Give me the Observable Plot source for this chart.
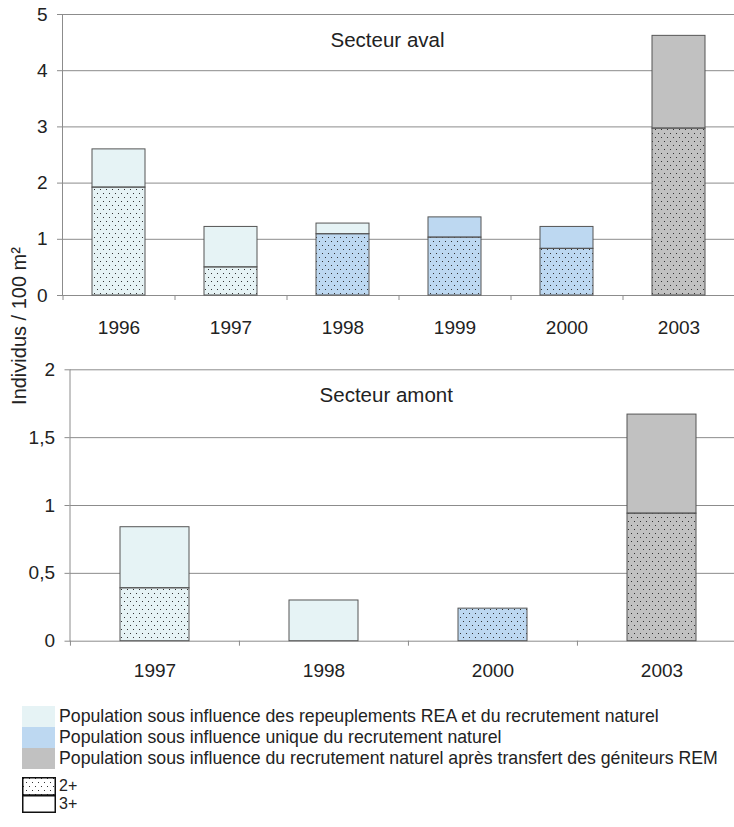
<!DOCTYPE html>
<html>
<head>
<meta charset="utf-8">
<script src="https://cdn.jsdelivr.net/npm/d3@7"></script>
<script src="https://cdn.jsdelivr.net/npm/@observablehq/plot@0.6"></script>
<style>
  html, body { margin: 0; padding: 0; background: white; }
  #wrap { position: relative; width: 734px; height: 827px; overflow: hidden; font-family: "Liberation Sans", Arial, sans-serif; color: #222; }
  .abs { position: absolute; }
  .legrow { position: absolute; left: 22px; height: 21px; display: flex; align-items: center; }
  .sw { width: 33px; height: 21px; }
  .lt { margin-left: 4px; font-size: 17.7px; white-space: nowrap; }
</style>
</head>
<body>
<svg width="0" height="0" style="position:absolute">
  <defs>
    <pattern id="dots" width="6" height="8" patternUnits="userSpaceOnUse">
      <rect x="1" y="1" width="1" height="1" fill="#333"></rect>
      <rect x="4" y="5" width="1" height="1" fill="#333"></rect>
    </pattern>
  </defs>
</svg>
<div id="wrap">
  <div id="top" class="abs" style="left:0;top:0"></div>
  <div id="bottom" class="abs" style="left:0;top:340px"></div>
  <div id="ylabel" class="abs" style="left:19px;top:326px;transform:translate(-50%,-50%) rotate(-90deg);font-size:20px;white-space:nowrap;">Individus / 100 m²</div>
  <div id="legend"></div>
</div>
<script>
// ---- Data ----
const avalYears = ["1996", "1997", "1998", "1999", "2000", "2003"];
const aval2plus = [1.92, 0.50, 1.09, 1.03, 0.83, 2.97];
const aval3plus = [0.68, 0.72, 0.19, 0.36, 0.39, 1.65];
const aval2Group = ["REA", "REA", "nat", "nat", "nat", "REM"];
const aval3Group = ["REA", "REA", "REA", "nat", "nat", "REM"];

const amontYears = ["1997", "1998", "2000", "2003"];
const amont2plus = [0.39, 0, 0.24, 0.94];
const amont3plus = [0.45, 0.30, 0, 0.73];
const amont2Group = ["REA", "REA", "nat", "REM"];
const amont3Group = ["REA", "REA", "nat", "REM"];

const groups = ["REA", "nat", "REM"];
const groupColors = ["#e6f3f5", "#bdd8f1", "#c1c1c1"];
const groupLabels = [
  "Population sous influence des repeuplements REA et du recrutement naturel",
  "Population sous influence unique du recrutement naturel",
  "Population sous influence du recrutement naturel après transfert des géniteurs REM"
];
const ageLabels = ["2+", "3+"];

const avalTicks = [0, 1, 2, 3, 4, 5];
const amontTicks = [0, 0.5, 1, 1.5, 2];

const titles = ["Secteur aval", "Secteur amont"];

// ---- Build ----
function rows(years, v2, v3, g2, g3) {
  const out = [];
  years.forEach((y, i) => {
    out.push({year: y, age: "2+", value: v2[i], group: g2[i]});
    out.push({year: y, age: "3+", value: v3[i], group: g3[i]});
  });
  return out.filter(d => d.value > 0);
}

const frFmt = d => String(d).replace(".", ",");
const gridColor = "#8c8c8c";

function chart(o) {
  const step = (o.width - o.ml) / o.years.length;
  const last = o.years[o.years.length - 1];
  return Plot.plot({
    width: o.width, height: o.height,
    marginLeft: o.ml, marginRight: 0, marginTop: o.mt, marginBottom: o.mb,
    style: {fontFamily: "'Liberation Sans', Arial, sans-serif", fontSize: "19px", color: "#222", maxWidth: "none", background: "transparent", overflow: "visible"},
    x: {domain: o.years, paddingInner: o.pI, paddingOuter: o.pI / 2, axis: null},
    y: {domain: [0, o.ticks[o.ticks.length - 1]], axis: null},
    color: {domain: groups, range: groupColors},
    marks: [
      Plot.ruleY(o.ticks, {stroke: gridColor, strokeWidth: 1}),
      Plot.frame({anchor: "left", stroke: gridColor}),
      Plot.barY(o.data, {x: "year", y: "value", fill: "group"}),
      Plot.barY(o.data.filter(d => d.age === "2+"), {x: "year", y: "value", fill: "url(#dots)"}),
      Plot.barY(o.data, {x: "year", y: "value", fill: "none", stroke: "#555", strokeWidth: 1}),
      Plot.axisY(o.ticks, {tickSize: 5, tickPadding: 10, tickFormat: frFmt, stroke: gridColor, fill: "#222", label: null}),
      Plot.axisX({tickSize: 0, tickPadding: o.xPad, fill: "#222", label: null}),
      Plot.axisX(o.years, {tickSize: 5, tickFormat: () => "", dx: -step / 2, stroke: gridColor, label: null}),
      Plot.axisX([last], {tickSize: 5, tickFormat: () => "", dx: step / 2, stroke: gridColor, label: null}),
      Plot.text([o.title], {frameAnchor: "top", dy: 26, dx: o.titleDx, lineAnchor: "middle", fontSize: 20.5, fill: "#222"})
    ]
  });
}

document.getElementById("top").append(chart({
  years: avalYears,
  data: rows(avalYears, aval2plus, aval3plus, aval2Group, aval3Group),
  ticks: avalTicks,
  width: 734, height: 340, ml: 62, mt: 14, mb: 45, pI: 0.527, xPad: 25,
  title: titles[0], titleDx: -11
}));

document.getElementById("bottom").append(chart({
  years: amontYears,
  data: rows(amontYears, amont2plus, amont3plus, amont2Group, amont3Group),
  ticks: amontTicks,
  width: 746, height: 360, ml: 69.5, mt: 29.3, mb: 59.3, pI: 0.59, xPad: 22,
  title: titles[1], titleDx: -22
}));

// ---- Legend ----
const legend = document.getElementById("legend");
groups.forEach((g, i) => {
  const r = document.createElement("div");
  r.className = "legrow";
  r.style.top = (706 + i * 21) + "px";
  r.innerHTML = `<div class="sw" style="background:${groupColors[i]}"></div><div class="lt">${groupLabels[i]}</div>`;
  legend.append(r);
});
ageLabels.forEach((a, i) => {
  const r = document.createElement("div");
  r.className = "legrow";
  r.style.top = (777 + i * 18) + "px";
  r.style.height = "18px";
  const fill = a === "2+" ? "url(#dots)" : "white";
  r.innerHTML = `<svg width="34" height="18" style="display:block"><rect x="0.75" y="0.75" width="32.5" height="${i === 0 ? 17.25 : 16.5}" fill="white"/><rect x="0.75" y="0.75" width="32.5" height="${i === 0 ? 17.25 : 16.5}" fill="${fill}" stroke="#111" stroke-width="1.5"/></svg><div class="lt" style="margin-left:3px;font-size:16px">${a}</div>`;
  legend.append(r);
});
</script>
</body>
</html>
